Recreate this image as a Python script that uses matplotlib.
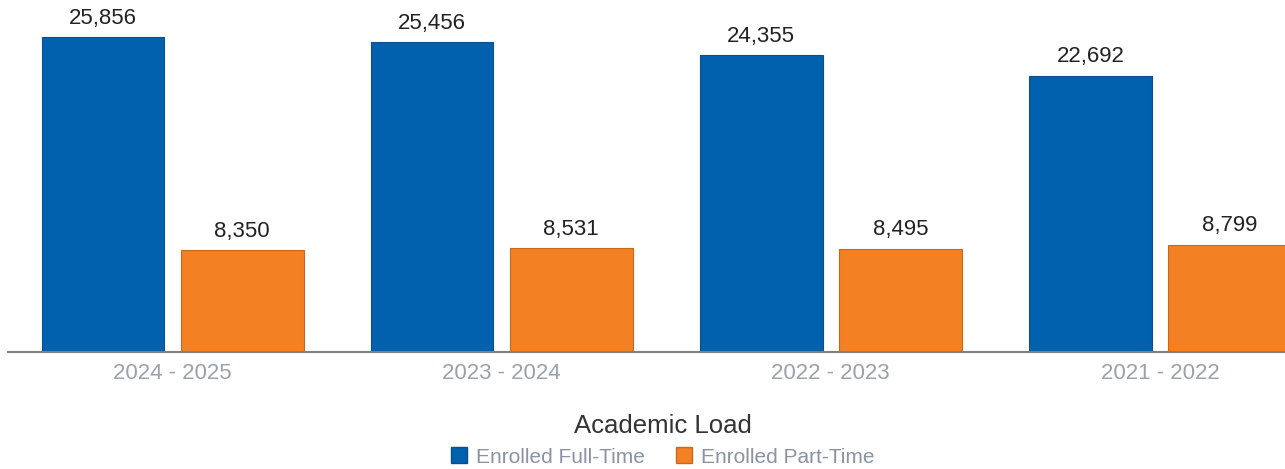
import matplotlib
matplotlib.use("Agg")
import matplotlib.pyplot as plt
from matplotlib.patches import Patch
import numpy as np

plt.rcParams['font.family'] = ['Liberation Sans', 'DejaVu Sans']

years = ["2024 - 2025", "2023 - 2024", "2022 - 2023", "2021 - 2022"]
full_time = [25856, 25456, 24355, 22692]
part_time = [8350, 8531, 8495, 8799]
series_names = ["Enrolled Full-Time", "Enrolled Part-Time"]

blue = "#0161ae"
orange = "#f48024"

fig = plt.figure(figsize=(12.85, 4.69), dpi=100)
ax = fig.add_axes([8 / 1285, 1 - 352 / 469, 1 - 8 / 1285, 352 / 469])

x = np.arange(len(years))
width = 0.373
offset = 0.2115

b1 = ax.bar(x - offset, full_time, width, color=blue, edgecolor="#0d4f8a", linewidth=0.8)
b2 = ax.bar(x + offset, part_time, width, color=orange, edgecolor="#c8681c", linewidth=0.8)

for bars, vals in ((b1, full_time), (b2, part_time)):
    for rect, v in zip(bars, vals):
        ax.annotate(f"{v:,}", (rect.get_x() + rect.get_width() / 2, v),
                    xytext=(0, 6), textcoords="offset points",
                    ha="center", va="bottom", fontsize=16, color="#222222")

ax.set_xlim(-0.5, 3.38)
ax.set_ylim(0, 28900)
ax.set_xticks(x)
ax.set_xticklabels(years, fontsize=16, color="#9aa1ad")
ax.tick_params(axis="x", length=0, pad=8)
ax.set_yticks([])
for side in ("top", "right", "left"):
    ax.spines[side].set_visible(False)
ax.spines["bottom"].set_color("#7f7f7f")
ax.spines["bottom"].set_linewidth(1.5)

fig.text(663 / 1285, 1 - 426 / 469, "Academic Load", ha="center", va="center",
         fontsize=18.5, color="#333333")

handles = [Patch(facecolor=blue, edgecolor="#0d4f8a"),
           Patch(facecolor=orange, edgecolor="#c8681c")]
leg = fig.legend(handles, series_names, loc="center", bbox_to_anchor=(663 / 1285, 1 - 457 / 469),
                 ncol=2, frameon=False, fontsize=15, handlelength=0.75, handleheight=0.8,
                 handletextpad=0.45, columnspacing=1.5, borderaxespad=0)
for t in leg.get_texts():
    t.set_color("#8a93a3")

fig.savefig("out.png", dpi=100)
